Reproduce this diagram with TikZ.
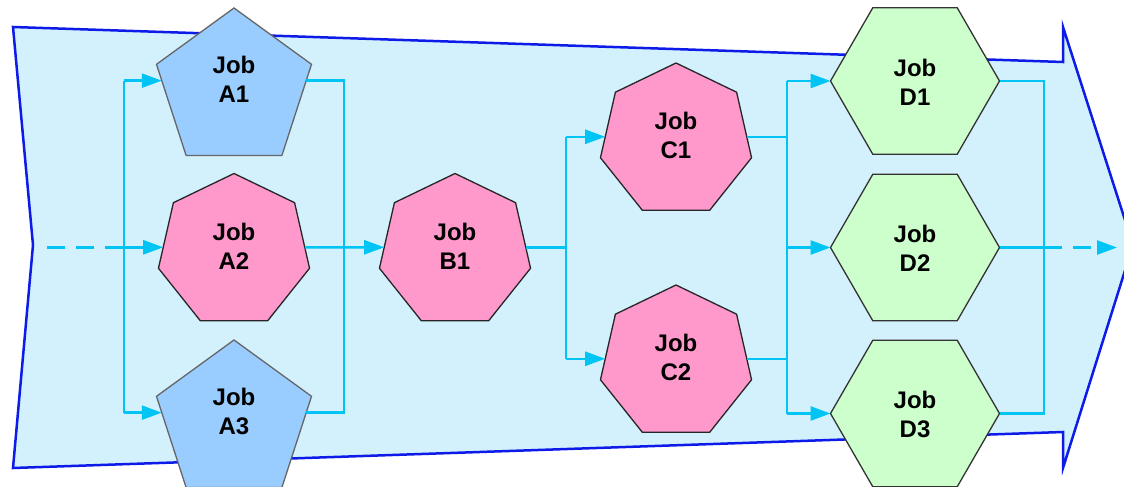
\documentclass[tikz,border=0pt]{standalone}
\usepackage{fontspec}
\setmainfont{Liberation Sans}
\usetikzlibrary{shapes.geometric,positioning,arrows.meta}

\definecolor{bgfill}{HTML}{D3F1FD}
\definecolor{bgline}{HTML}{0D1BE8}
\definecolor{flowline}{HTML}{00C4F4}
\definecolor{pentfill}{HTML}{99CCFF}
\definecolor{heptfill}{HTML}{FF99CC}
\definecolor{hexfill}{HTML}{CCFFCC}

\newcommand{\jobshift}{0pt}
\newcommand{\jobtag}[1]{\raisebox{\jobshift}[0pt][0pt]{\begin{tabular}{@{}c@{}}Job\\#1\end{tabular}}}

\begin{document}
\begin{tikzpicture}
[
  x=1pt, y=-1pt,
  >={Triangle[length=20pt,width=14pt]},
  on grid,
  font=\bfseries\fontsize{24}{29}\selectfont,
  job/.style={regular polygon, draw, outer sep=0pt, inner sep=0pt, line width=1.3pt},
  pent/.style={job, regular polygon sides=5, minimum size=163pt, fill=pentfill, draw=black!60, execute at begin node={\def\jobshift{1pt}}},
  hept/.style={job, regular polygon sides=7, minimum size=155pt, fill=heptfill, draw=black!85, execute at begin node={\def\jobshift{-4pt}}},
  hexa/.style={job, regular polygon sides=6, minimum size=169pt, fill=hexfill, draw=black!80, execute at begin node={\def\jobshift{-10pt}}},
  flow/.style={draw=flowline, line width=2.5pt},
  feed/.style={flow, dash pattern=on 18pt off 11pt}
]
 \useasboundingbox (0,0) rectangle (1124,487);
 \draw[bgline, fill=bgfill, line width=2.5pt] (13,27) -- (1063,62) -- (1063,27) -- (1133,245) -- (1063,468) -- (1063,432) -- (13,468) -- (33,245) -- cycle;

 \node[hept] (A2) at (234,251) {\jobtag{A2}};
 \node[pent] (A1) [above=161.5pt of A2] {\jobtag{A1}};
 \node[pent] (A3) [below=170.5pt of A2] {\jobtag{A3}};
 \node[hept] (B1) [right=221pt of A2] {\jobtag{B1}};
 \node[hept] (C1) [above right=110.5pt and 221pt of B1] {\jobtag{C1}};
 \node[hept] (C2) [below=222pt of C1] {\jobtag{C2}};
 \node[hexa] (D2) at (915,247.5) {\jobtag{D2}};
 \node[hexa] (D1) [above=166.5pt of D2] {\jobtag{D1}};
 \node[hexa] (D3) [below=166pt of D2] {\jobtag{D3}};

 \coordinate (in) at (47,0);
 \coordinate (busA) at (124,0);
 \coordinate (joinA) at (344,0);
 \coordinate (busC) at (566,0);
 \coordinate (busD) at (787,0);
 \coordinate (joinD) at (1044,0);
 \coordinate (out) at (1117,0);

 \draw[feed] (A2.177 -| in) -- (A2.177 -| busA);
 \draw[flow] (A1.173 -| busA) -- (A3.173 -| busA);
 \foreach \n/\a in {A1/173, A2/177, A3/173}
   \draw[flow,->] (\n.\a -| busA) -- (\n.\a);
 \draw[flow] (A1.7) -- (A1.7 -| joinA) -- (A3.7 -| joinA) -- (A3.7);
 \draw[flow,->] (A2.3) -- (B1.177);

 \draw[flow] (B1.3) -- (B1.3 -| busC);
 \draw[flow] (C1.177 -| busC) -- (C2.177 -| busC);
 \foreach \n in {C1, C2}
   \draw[flow,->] (\n.177 -| busC) -- (\n.177);

 \draw[flow] (C1.3) -- (C1.3 -| busD);
 \draw[flow] (C2.3) -- (C2.3 -| busD);
 \draw[flow] (D1.west -| busD) -- (D3.west -| busD);
 \foreach \n in {D1, D2, D3}
   \draw[flow,->] (\n.west -| busD) -- (\n.west);

 \draw[flow] (D1.east) -- (D1.east -| joinD) -- (D3.east -| joinD) -- (D3.east);
 \draw[flow] (D2.east) -- (D2.east -| joinD);
 \draw[feed,->] (D2.east -| joinD) -- (D2.east -| out);
\end{tikzpicture}
\end{document}
